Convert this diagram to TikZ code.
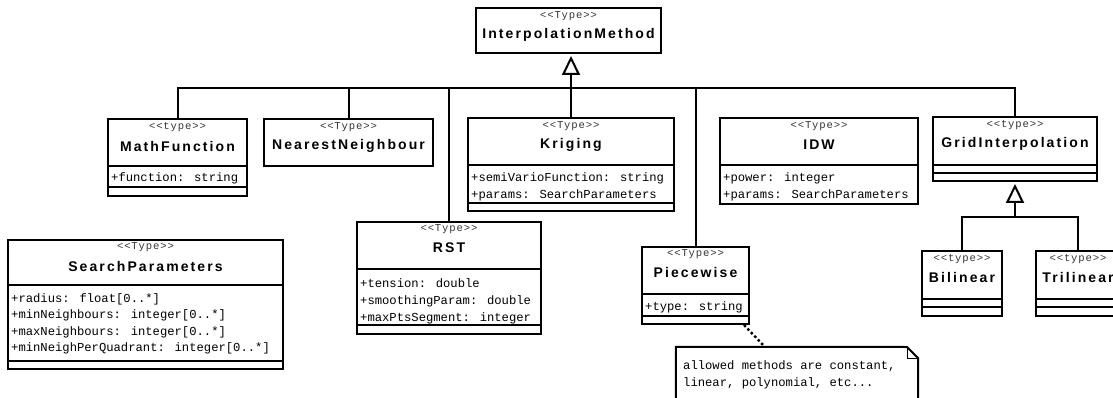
\documentclass[tikz,border=0pt]{standalone}
\usepackage{fontspec}
\setmainfont{Liberation Sans}
\newfontfamily\namefont[LetterSpace=15]{Liberation Sans}
\newfontfamily\stfont[LetterSpace=8]{Liberation Mono}
\newfontfamily\atfont{Liberation Mono}
\usetikzlibrary{arrows.meta,fit}
\begin{document}
\begin{tikzpicture}[x=1pt,y=-1pt,
  ln/.style={line width=2pt},
  box/.style={draw, line width=2pt, inner sep=0pt, fit={#1}},
  st/.style={font=\stfont\fontsize{10.6}{11}\selectfont, text=black!80, inner sep=0pt},
  nm/.style={font=\namefont\bfseries\fontsize{14}{15}\selectfont, inner sep=0pt},
  attr/.style={font=\atfont\fontsize{12.2}{14}\selectfont, anchor=base west, inner sep=0pt},
  inh/.style={ln, -{Triangle[open, length=19pt, width=18pt]}},
  notedots/.style={line width=2.4pt, dash pattern=on 2.5pt off 2.5pt},
]
\useasboundingbox (0,0) rectangle (1113,398);

% InterpolationMethod
\node[box={(476,8)(661,53)}] (im) {};
\node[st] (imst) at (568.5,16) {<<Type>>};
\node[nm] (imnm) at (568.5,35) {InterpolationMethod};

% MathFunction
\node[box={(108,119)(247,196)}] (mf) {};
\draw[ln] (108,166) -- (247,166) (108,187) -- (247,187);
\node[st] (mfst) at (177.5,127) {<<type>>};
\node[nm] (mfnm) at (177.5,146) {MathFunction};
\node[attr] (mfa1) at (111,182) {+function: string};

% NearestNeighbour
\node[box={(264,119)(433,166)}] (nn) {};
\node[st] (nnst) at (348.5,127) {<<Type>>};
\node[nm] (nnnm) at (348.5,146) {NearestNeighbour};

% Kriging
\node[box={(468,118)(674,211)}] (krig) {};
\draw[ln] (468,165) -- (674,165) (468,203) -- (674,203);
\node[st] (krst) at (571,126) {<<Type>>};
\node[nm] (krnm) at (571,145) {Kriging};
\node[attr] (kra1) at (471,182) {+semiVarioFunction: string};
\node[attr] (kra2) at (471,199) {+params: SearchParameters};

% IDW
\node[box={(720,118)(918,204)}] (idw) {};
\draw[ln] (720,165) -- (918,165);
\node[st] (idst) at (819,126) {<<Type>>};
\node[nm] (idnm) at (819,145) {IDW};
\node[attr] (ida1) at (723,182) {+power: integer};
\node[attr] (ida2) at (723,199) {+params: SearchParameters};

% GridInterpolation
\node[box={(933,117)(1097,181)}] (gi) {};
\draw[ln] (933,165) -- (1097,165) (933,173) -- (1097,173);
\node[st] (gist) at (1015,125) {<<type>>};
\node[nm] (ginm) at (1015,144) {GridInterpolation};

% RST
\node[box={(357,222)(541,334)}] (rst) {};
\draw[ln] (357,269) -- (541,269) (357,325) -- (541,325);
\node[st] (rsst) at (449,229) {<<Type>>};
\node[nm] (rsnm) at (449,248) {RST};
\node[attr] (rsa1) at (360,287) {+tension: double};
\node[attr] (rsa2) at (360,304) {+smoothingParam: double};
\node[attr] (rsa3) at (360,321) {+maxPtsSegment: integer};

% Piecewise
\node[box={(642,247)(749,324)}] (pw) {};
\draw[ln] (642,294) -- (749,294) (642,316) -- (749,316);
\node[st] (pwst) at (695.5,254) {<<Type>>};
\node[nm] (pwnm) at (695.5,272) {Piecewise};
\node[attr] (pwa1) at (645,310) {+type: string};

% SearchParameters
\node[box={(8,240)(283,369)}] (sp) {};
\draw[ln] (8,285) -- (283,285) (8,361) -- (283,361);
\node[st] (spst) at (145.5,247) {<<Type>>};
\node[nm] (spnm) at (145.5,266) {SearchParameters};
\node[attr] (spa1) at (11,302) {+radius: float[0..*]};
\node[attr] (spa2) at (11,318.5) {+minNeighbours: integer[0..*]};
\node[attr] (spa3) at (11,335) {+maxNeighbours: integer[0..*]};
\node[attr] (spa4) at (11,351.5) {+minNeighPerQuadrant: integer[0..*]};

% Bilinear
\node[box={(922,251)(1002,316)}] (bil) {};
\draw[ln] (922,299) -- (1002,299) (922,307) -- (1002,307);
\node[st] (bist) at (962,259) {<<type>>};
\node[nm] (binm) at (962,277) {Bilinear};

% Trilinear
\node[box={(1036,251)(1120,316)}] (tri) {};
\draw[ln] (1036,299) -- (1120,299) (1036,307) -- (1120,307);
\node[st] (trst) at (1078,259) {<<type>>};
\node[nm] (trnm) at (1078,277) {Trilinear};

% Note
\node[inner sep=0pt, fit={(676,347)(918,420)}] (note) {};
\draw[ln] (note.north west) -- (907,347) -- (918,358) -- (note.south east) -- (note.south west) -- cycle;
\draw[line width=0.8pt] (907,347) -- (907,358) -- (918,358);
\node[attr] (nt1) at (683,369.5) {allowed methods are constant,};
\node[attr] (nt2) at (683,386.5) {linear, polynomial, etc...};

% Connectors
\coordinate (bus) at (0,88);
\coordinate (bus2) at (0,217);
\draw[ln] (mf.north) |- (gi.north |- bus) -- (gi.north);
\draw[ln] (nn.north) -- (nn.north |- bus);
\draw[ln] (rst.north) -- (rst.north |- bus);
\draw[ln] (pw.north) -- (pw.north |- bus);
\draw[ln] (krig.north) -- (krig.north |- bus);
\draw[inh] (krig.north |- bus) -- ([yshift=-2pt]krig.north |- im.south);
\draw[ln] (bil.north) |- (tri.north |- bus2) -- (tri.north);
\draw[inh] (gi.south |- bus2) -- ([yshift=-2pt]gi.south);
\draw[notedots] ([xshift=-6pt]pw.south east) -- ([xshift=89pt]note.north west);
\end{tikzpicture}
\end{document}
